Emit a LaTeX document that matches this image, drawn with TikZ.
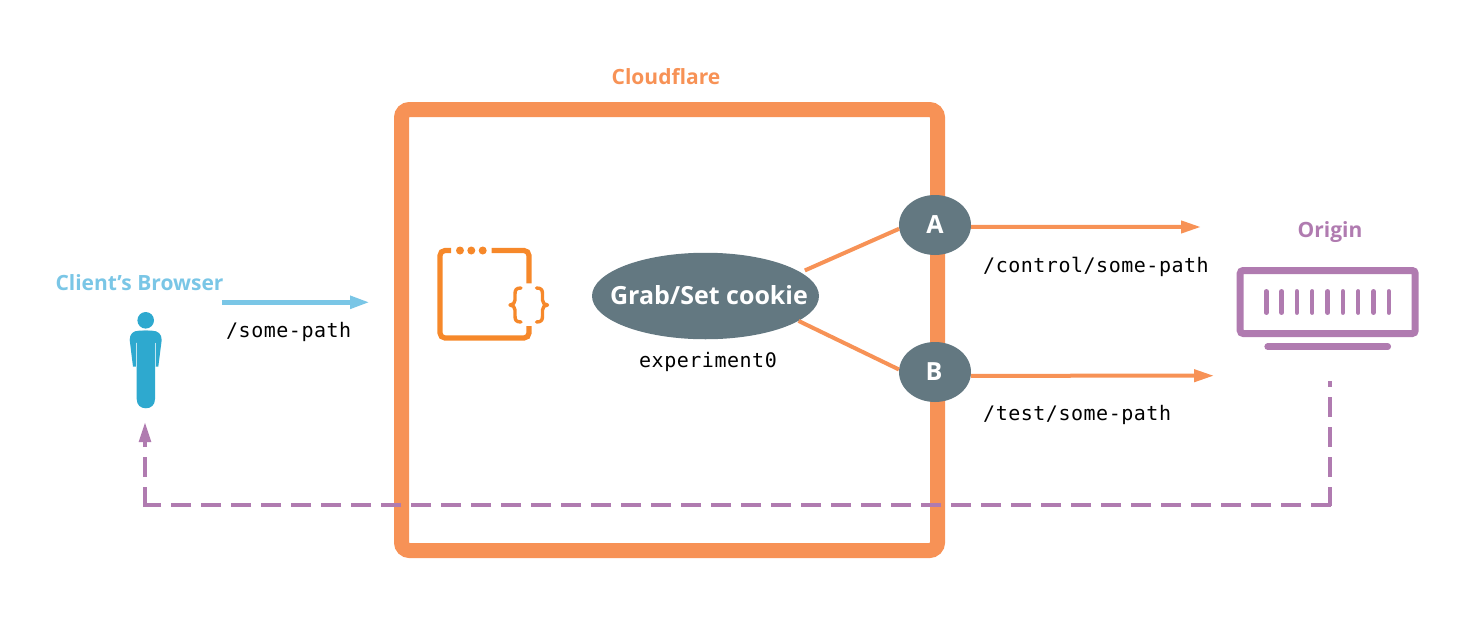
\documentclass[tikz,border=0pt]{standalone}
\usepackage{fontspec}
\setmainfont{Open Sans}
\newfontfamily\codefont[LetterSpace=2.6]{DejaVu Sans Mono}
\usetikzlibrary{arrows.meta,shapes.geometric,calc}
\definecolor{cforange}{HTML}{F79256}
\definecolor{iconorange}{HTML}{F6882A}
\definecolor{skyblue}{HTML}{7AC6E6}
\definecolor{personblue}{HTML}{2EA9CF}
\definecolor{mauve}{HTML}{B07BB0}
\definecolor{slategrey}{HTML}{637881}
\tikzset{
  title/.style={font=\fontsize{21}{25}\selectfont\bfseries,inner sep=0pt},
  pathlabel/.style={font=\fontsize{20}{24}\selectfont\codefont,text=black,inner sep=0pt},
  decision/.style={ellipse,fill=slategrey,text=white,inner sep=0pt,font=\fontsize{25}{28}\selectfont\bfseries},
  route/.style={draw=cforange,line width=4pt},
  routearrow/.style={route,-{Triangle[length=20pt,width=12pt]}},
  returnpath/.style={draw=mauve,line width=4pt,dash pattern=on 20pt off 10pt},
  iconline/.style={draw=iconorange,line width=5.2pt,rounded corners=5pt},
  bracestroke/.style={draw=iconorange,line width=3.4pt,line cap=round,line join=round},
  serverbar/.style={draw=mauve,line width=4.5pt,line cap=round},
}
\begin{document}
\begin{tikzpicture}[x=1pt,y=-1pt]
\useasboundingbox (0,0) rectangle (1482,640);

% Cloudflare box
\node[draw=cforange,line width=15pt,rounded corners=8pt,minimum width=536pt,minimum height=441pt,inner sep=0pt] (cf) at (669.5,330) {};
\node[title,text=cforange] (cftitle) at (666,77) {Cloudflare};

% return path
\coordinate (retA) at (1330,381);
\coordinate (retB) at (1330,506);
\coordinate (retC) at (1331,505);
\coordinate (retD) at (143,505);
\coordinate (retE) at (145,507);
\coordinate (retF) at (145,422);
\draw[returnpath,dash phase=14pt] (retA) -- (retB);
\draw[returnpath] (retC) -- (retD);
\draw[returnpath,-{Triangle[length=20pt,width=11.5pt]}] (retE) -- (retF);

% Client
\node[title,text=skyblue] (client) at (139.5,283) {Client’s Browser};
\fill[personblue] (145.7,320.3) circle (8.3pt);
\fill[personblue] (136.7,338) .. controls (136.7,333) and (140,330.7) .. (144,330.7)
  -- (147.5,330.7) .. controls (152,330.7) and (155,333) .. (155,338)
  -- (155,399) .. controls (155,405) and (151,408.3) .. (145.85,408.3)
  .. controls (140.7,408.3) and (136.7,405) .. (136.7,399) -- cycle;
\fill[personblue] (129.7,340) .. controls (129.7,334) and (133,330.7) .. (139,330.7) -- (152,330.7)
  .. controls (158,330.7) and (161.7,334) .. (161.7,340) -- (158.3,366.7) -- (155.2,366.7) -- (155.2,342.7)
  -- (136.5,342.7) -- (136.5,366.7) -- (133,366.7) -- cycle;
\draw[white!70!personblue,line width=0.8pt] (136.4,342.7) -- (136.4,366.7) (155.2,342.7) -- (155.2,366.7);
\coordinate (reqA) at (222,302.3);
\coordinate (reqB) at (370,302.3);
\draw[draw=skyblue,line width=5pt,-{Triangle[length=20pt,width=12pt]}] (reqA) -- (reqB);
\node[pathlabel,anchor=west] (somepath) at (226,332) {/some-path};

% Worker icon
\draw[iconline] (451,250.5) -- (440,250.5) -- (440,338) -- (529,338) -- (529,326);
\draw[iconline] (491.7,250.5) -- (529,250.5) -- (529,283.3);
\fill[iconorange] (460,250.5) circle (4pt) (471.3,250.5) circle (4pt) (482.7,250.5) circle (4pt);
\draw[bracestroke] (521,288) .. controls (516,288) and (515,290) .. (515,294) -- (515,300)
  .. controls (515,303) and (513,305) .. (510,305) .. controls (513,305) and (515,307) .. (515,310)
  -- (515,316) .. controls (515,320) and (516,322) .. (521,322);
\draw[bracestroke] (536.5,288) .. controls (541.5,288) and (542.5,290) .. (542.5,294) -- (542.5,300)
  .. controls (542.5,303) and (544.5,305) .. (547.5,305) .. controls (544.5,305) and (542.5,307) .. (542.5,310)
  -- (542.5,316) .. controls (542.5,320) and (541.5,322) .. (536.5,322);

% Decision nodes
\node[decision,minimum width=227pt,minimum height=86.5pt] (cookie) at (705.5,296) {\makebox[0pt]{\hspace{7pt}\raisebox{2pt}{Grab/Set cookie}}};
\node[pathlabel] (exp) at (708,362) {experiment0};
\node[decision,minimum width=72pt,minimum height=60pt] (A) at (935,225) {A};
\node[decision,minimum width=72pt,minimum height=60pt] (B) at (935,372) {\makebox[0pt]{\hspace{-2pt}\raisebox{1pt}{B}}};
\draw[route,shorten <=4.5pt] (cookie.14.5) -- (A.186.5);
\draw[route] (cookie.-15.6) -- (B.176.5);
\coordinate (aEnd) at (1201,227);
\coordinate (bEnd) at (1214,375.7);
\draw[routearrow] (A.-3) -- (aEnd);
\draw[routearrow] (B.-6) -- (bEnd);
\node[pathlabel,anchor=west] (ctrl) at (983,267) {/control/some-path};
\node[pathlabel,anchor=west] (test) at (983,415) {/test/some-path};

% Origin
\node[title,text=mauve] (origin) at (1330,232.5) {Origin};
\node[draw=mauve,line width=7pt,rounded corners=3pt,minimum width=175pt,minimum height=63pt,inner sep=0pt] (server) at (1327.7,302) {};
\foreach \bx in {1266.3,1281.6,1296.9,1312.2,1327.6,1342.9,1358.2,1373.5,1388.8}
  \draw[serverbar] (\bx,291.3) -- (\bx,312.7);
\draw[draw=mauve,line width=6.7pt,line cap=round] (1267.7,346.7) -- (1387.7,346.7);
\end{tikzpicture}
\end{document}
